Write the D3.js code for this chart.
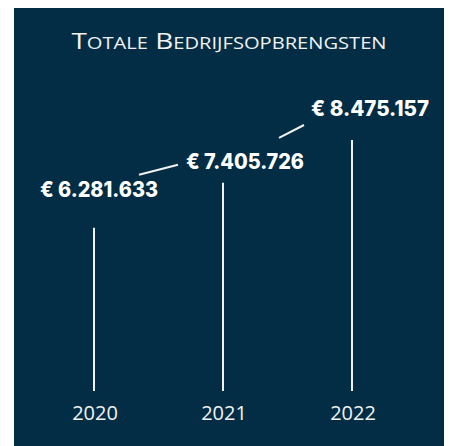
<!DOCTYPE html>
<meta charset="utf-8">
<html>
<head>
	<title>Totale Bedrijfsopbrengsten</title>
	<script src="https://d3js.org/d3.v7.min.js"></script>
	<style>
		body { margin: 0; background: #ffffff; }
	</style>
</head>
<body>
<script type="text/javascript">

	// chart data
	var years = ["2020", "2021", "2022"];
	var revenue = [6281633, 7405726, 8475157];
	var valueLabels = ["€ 6.281.633", "€ 7.405.726", "€ 8.475.157"];

	// label placement relative to the top of each line (layout only)
	var labelDx = [5, 22, 18];
	var labelDy = [-31, -14, -24];

	// connector offsets from label anchors (layout only)
	var linkStart = [[40, -22], [34, -31]];
	var linkEnd = [[-67, -4], [-66, 9]];

	var width = 449;
	var height = 446;

	var svg = d3.select("body")
		.append("svg")
		.attr("width", width)
		.attr("height", height);

	// dark panel
	svg.append("rect")
		.attr("x", 14)
		.attr("y", 8)
		.attr("width", 430)
		.attr("height", 438)
		.attr("fill", "#032d45");

	// title, small caps built by hand
	var titleWords = ["Totale", "Bedrijfsopbrengsten"];
	var title = svg.append("text")
		.attr("x", 229)
		.attr("y", 49)
		.attr("text-anchor", "middle")
		.attr("fill", "#f2f2f2")
		.style("font-family", "'Open Sans', sans-serif")
		.style("font-weight", "400")
		.attr("textLength", 315)
		.attr("lengthAdjust", "spacingAndGlyphs");

	titleWords.forEach(function(w, i) {
		title.append("tspan")
			.style("font-size", "21.5px")
			.text((i > 0 ? " " : "") + w[0]);
		title.append("tspan")
			.style("font-size", "15.5px")
			.text(w.slice(1).toUpperCase());
	});

	// scales
	var x = d3.scalePoint()
		.domain(years)
		.range([94, 352]);

	var y = d3.scaleLinear()
		.domain([0, 8475157])
		.range([479, 140]);

	var baseline = 391;

	// vertical lines
	svg.selectAll("line.bar")
		.data(revenue)
		.enter()
		.append("line")
		.attr("class", "bar")
		.attr("x1", function(d, i) { return x(years[i]); })
		.attr("x2", function(d, i) { return x(years[i]); })
		.attr("y1", baseline)
		.attr("y2", function(d) { return y(d); })
		.attr("stroke", "#f2f2f2")
		.attr("stroke-width", 2);

	// year labels
	svg.selectAll("text.year")
		.data(years)
		.enter()
		.append("text")
		.attr("class", "year")
		.attr("x", function(d) { return x(d) + 1; })
		.attr("y", 420)
		.attr("text-anchor", "middle")
		.attr("fill", "#f2f2f2")
		.style("font-family", "'Open Sans', sans-serif")
		.style("font-size", "20px")
		.text(function(d) { return d; });

	// label anchor points
	function labelX(i) { return x(years[i]) + labelDx[i]; }
	function labelY(i) { return y(revenue[i]) + labelDy[i]; }

	// value labels
	svg.selectAll("text.value")
		.data(valueLabels)
		.enter()
		.append("text")
		.attr("class", "value")
		.attr("x", function(d, i) { return labelX(i); })
		.attr("y", function(d, i) { return labelY(i); })
		.attr("text-anchor", "middle")
		.attr("fill", "#ffffff")
		.style("font-family", "'Inter', sans-serif")
		.style("font-weight", "800")
		.style("font-size", "21px")
		.attr("textLength", 118)
		.attr("lengthAdjust", "spacingAndGlyphs")
		.text(function(d) { return d; });

	// connectors between consecutive labels
	var links = d3.range(revenue.length - 1);
	svg.selectAll("line.link")
		.data(links)
		.enter()
		.append("line")
		.attr("class", "link")
		.attr("x1", function(i) { return labelX(i) + linkStart[i][0]; })
		.attr("y1", function(i) { return labelY(i) + linkStart[i][1]; })
		.attr("x2", function(i) { return labelX(i + 1) + linkEnd[i][0]; })
		.attr("y2", function(i) { return labelY(i + 1) + linkEnd[i][1]; })
		.attr("stroke", "#f2f2f2")
		.attr("stroke-width", 2);

</script>
</body>
</html>
